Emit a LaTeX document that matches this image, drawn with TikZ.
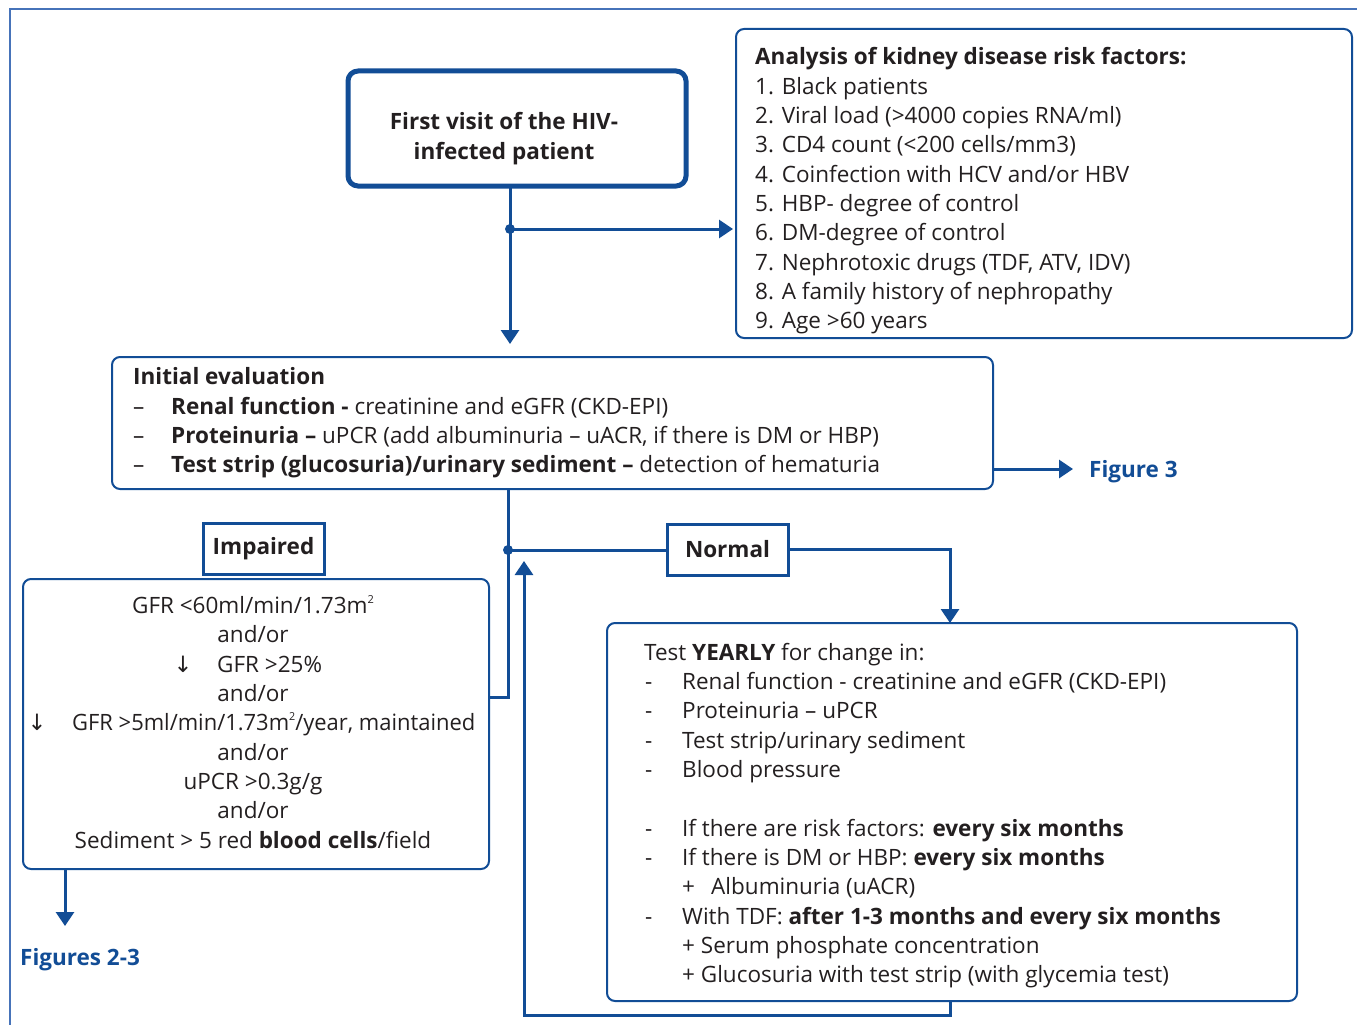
\documentclass[tikz,border=0pt]{standalone}
\usepackage{fontspec}
\setmainfont{Open Sans}
\newfontfamily\djf{DejaVu Sans}
\usetikzlibrary{arrows.meta}
\definecolor{hb}{RGB}{18,77,150}
\definecolor{fb}{RGB}{70,115,185}
\definecolor{tx}{RGB}{35,31,32}
\newcommand{\sqtwo}{\raisebox{0.75ex}{\fontsize{11}{11}\selectfont 2}}
\begin{document}
\begin{tikzpicture}[x=1pt,y=-1pt,
  box/.style={draw=hb, line width=2pt, rounded corners=8pt, outer sep=0pt, inner sep=0pt, anchor=north west},
  lbl/.style={draw=hb, line width=3pt, inner sep=0pt, outer sep=0pt, text=tx, font=\fontsize{22.5}{26}\selectfont\bfseries},
  conn/.style={draw=hb, line width=3pt},
  arr/.style={conn, -{Triangle[width=18pt,length=14pt]}},
  t/.style={anchor=base west, inner sep=0pt, text=tx, font=\fontsize{22.5}{26}\selectfont},
  tc/.style={anchor=base, inner sep=0pt, text=tx, font=\fontsize{22.5}{26}\selectfont},
  fig/.style={anchor=base west, inner sep=0pt, text=hb, font=\fontsize{22.5}{26}\selectfont\bfseries},
  dot/.style={circle, fill=hb, inner sep=0pt, minimum size=10pt}]
\useasboundingbox (0,0) rectangle (1357,1025);
\draw[fb, line width=1.5pt] (10,1030) -- (10,9) -- (1360,9);

% first visit
\node[box, line width=5pt, rounded corners=10pt, minimum width=338pt, minimum height=115pt] (fv) at (348,71) {};
\node[tc, font=\fontsize{22.5}{26}\selectfont\bfseries] (fv1) at (504,129) {First visit of the HIV-};
\node[tc, font=\fontsize{22.5}{26}\selectfont\bfseries] (fv2) at (504,159) {infected patient};

% risk factors
\node[box, minimum width=616pt, minimum height=309pt] (risk) at (736,29) {};
\node[t] (r0) at (755,64) {\bfseries Analysis of kidney disease risk factors:};
\node[t] (r1) at (755,94) {1. Black patients};
\node[t] (r2) at (755,123) {2. Viral load (>4000 copies RNA/ml)};
\node[t] (r3) at (755,152) {3. CD4 count (<200 cells/mm3)};
\node[t] (r4) at (755,182) {4. Coinfection with HCV and/or HBV};
\node[t] (r5) at (755,211) {5. HBP- degree of control};
\node[t] (r6) at (755,240) {6. DM-degree of control};
\node[t] (r7) at (755,270) {7. Nephrotoxic drugs (TDF, ATV, IDV)};
\node[t] (r8) at (755,299) {8. A family history of nephropathy};
\node[t] (r9) at (755,328) {9. Age >60 years};

% initial evaluation
\node[box, minimum width=881pt, minimum height=132pt] (init) at (112,357) {};
\node[t] (i0) at (133,384) {\bfseries Initial evaluation};
\node[t] (i1d) at (133,414) {–};
\node[t] (i1) at (171,414) {\bfseries Renal function - \mdseries creatinine and eGFR (CKD-EPI)};
\node[t] (i2d) at (133,443) {–};
\node[t] (i2) at (171,443) {\bfseries Proteinuria – \mdseries uPCR (add albuminuria – uACR, if there is DM or HBP)};
\node[t] (i3d) at (133,472) {–};
\node[t] (i3) at (171,472) {\bfseries Test strip (glucosuria)/urinary sediment – \mdseries detection of hematuria};

\node[fig] (fig3) at (1089,477) {Figure 3};

% labels
\node[lbl, minimum width=121pt, minimum height=51pt] (imp) at (263.5,548.5) {Impaired};
\node[lbl, minimum width=121pt, minimum height=51pt] (nor) at (727.5,549.5) {Normal};

% criteria
\node[box, minimum width=466pt, minimum height=290pt] (crit) at (23,579) {};
\node[tc] (k1) at (253,613) {GFR <60ml/min/1.73m\sqtwo};
\node[tc] (k2) at (253,642) {and/or};
\node[tc] (k3a) at (183,672) {\djf ↓};
\node[t] (k3) at (217,672) {GFR >25\%};
\node[tc] (k4) at (253,701) {and/or};
\node[tc] (k5a) at (37,730) {\djf ↓};
\node[t] (k5) at (72,730) {\scalebox{0.975}[1]{GFR >5ml/min/1.73m\sqtwo/year, maintained}};
\node[tc] (k6) at (253,760) {and/or};
\node[tc] (k7) at (253,789) {uPCR >0.3g/g};
\node[tc] (k8) at (253,818) {and/or};
\node[tc] (k9) at (253,848) {Sediment > 5 red \textbf{blood cells}/field};

\node[fig] (fig23) at (20,965) {Figures 2-3};

% yearly
\node[box, minimum width=690pt, minimum height=378pt] (yr) at (607,623) {};
\node[t] (y0) at (644,660) {Test \textbf{YEARLY} for change in:};
\node[t] (y1d) at (645,689) {-};
\node[t] (y1) at (682,689) {Renal function - creatinine and eGFR (CKD-EPI)};
\node[t] (y2d) at (645,718) {-};
\node[t] (y2) at (682,718) {Proteinuria – uPCR};
\node[t] (y3d) at (645,748) {-};
\node[t] (y3) at (682,748) {Test strip/urinary sediment};
\node[t] (y4d) at (645,777) {-};
\node[t] (y4) at (682,777) {Blood pressure};
\node[t] (y5d) at (645,836) {-};
\node[t] (y5) at (682,836) {If there are risk factors: \textbf{every six months}};
\node[t] (y6d) at (645,865) {-};
\node[t] (y6) at (682,865) {If there is DM or HBP: \textbf{every six months}};
\node[t] (y7p) at (682,894) {+};
\node[t] (y7) at (711,894) {Albuminuria (uACR)};
\node[t] (y8d) at (645,924) {-};
\node[t] (y8) at (682,924) {With TDF: \textbf{after 1-3 months and every six months}};
\node[t] (y9) at (682,953) {+ Serum phosphate concentration};
\node[t] (y10) at (682,982) {+ Glucosuria with test strip (with glycemia test)};

% connectors
\coordinate (d1) at (510,229);
\coordinate (a1) at (510,344);
\draw[conn] (fv.south -| d1) -- (d1);
\draw[arr] (d1) -- (a1);
\draw[arr, shorten >=3pt] (d1) -- (d1 -| risk.west);
\coordinate (f3) at (993,469);
\draw[arr, shorten >=16pt] (f3) -- (f3 -| fig3.west);
\coordinate (d2) at (508,550);
\coordinate (c1) at (508,697);
\draw[conn] (init.south -| d2) -- (c1) -- (c1 -| crit.east);
\draw[conn] (d2) -- (d2 -| nor.west);
\coordinate (c2) at (950,623);
\draw[arr] (nor.east) -| (c2);
\coordinate (c3) at (950,1015);
\coordinate (c4) at (524,1015);
\coordinate (c5) at (524,561);
\draw[arr] (c3 |- yr.south) -- (c3) -- (c4) -- (c5);
\coordinate (c6) at (65,926);
\draw[arr] (crit.south -| c6) -- (c6);
\node[dot] (dt1) at (d1) {};
\node[dot] (dt2) at (d2) {};
\end{tikzpicture}
\end{document}
